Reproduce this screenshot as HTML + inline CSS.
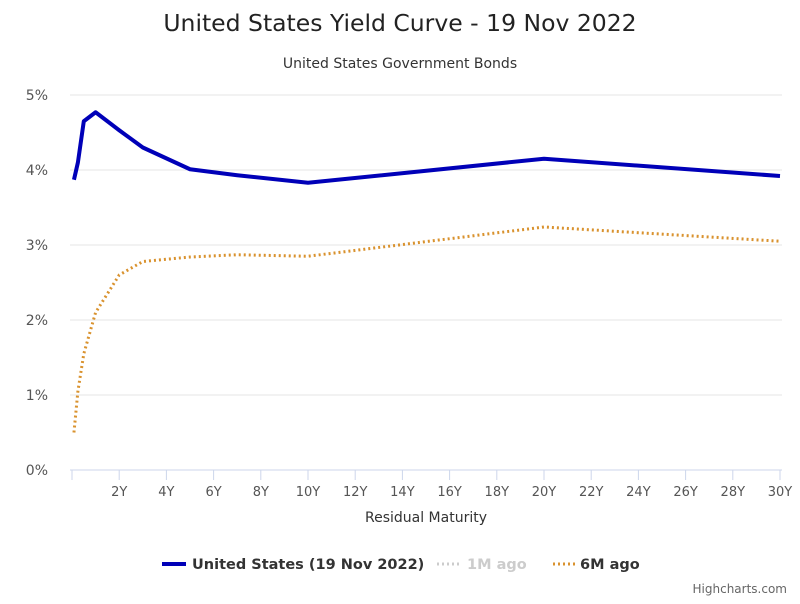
<!DOCTYPE html>
<html><head><meta charset="utf-8"><style>
body{margin:0;background:#fff;font-family:"DejaVu Sans",sans-serif}
svg text{font-family:"DejaVu Sans",sans-serif}
</style></head><body>
<svg width="800" height="600" xmlns="http://www.w3.org/2000/svg">
<text x="400" y="31" text-anchor="middle" font-size="23.5" fill="#222">United States Yield Curve - 19 Nov 2022</text>
<text x="400" y="68" text-anchor="middle" font-size="14" fill="#333">United States Government Bonds</text>
<g id="grid"></g><g id="xaxis"></g><g id="series"></g>
<text x="426" y="522" text-anchor="middle" font-size="14" fill="#333">Residual Maturity</text>
<g>
<g><line x1="162" y1="564" x2="186" y2="564" stroke="#0000b8" stroke-width="4"/><text x="192" y="569" font-size="14.5" font-weight="bold" fill="#333">United States (19 Nov 2022)</text></g>
<g><line x1="437" y1="564" x2="461" y2="564" stroke="#ccc" stroke-width="3" stroke-dasharray="2,3"/><text x="467" y="569" font-size="14.5" font-weight="bold" fill="#ccc">1M ago</text></g>
<g><line x1="553" y1="564" x2="577" y2="564" stroke="#d9922e" stroke-width="3" stroke-dasharray="2,3"/><text x="580" y="569" font-size="14.5" font-weight="bold" fill="#333">6M ago</text></g>
</g>
<text x="787" y="593" text-anchor="end" font-size="12" fill="#666">Highcharts.com</text>
</svg>
<script>
const maturities=[0.083,0.25,0.5,1,2,3,5,7,10,20,30];
const usNow=[3.87,4.1,4.65,4.77,4.53,4.3,4.01,3.93,3.83,4.15,3.92];
const ago6M=[0.5,1.05,1.55,2.1,2.6,2.78,2.84,2.87,2.85,3.24,3.05];
const yTicks=[0,1,2,3,4,5];
const xTicks=[2,4,6,8,10,12,14,16,18,20,22,24,26,28,30];
const NS="http://www.w3.org/2000/svg";
const X0=72,X1=780,Y0=470,Y1=95;
const xs=v=>X0+(X1-X0)*v/30, ys=v=>Y0-(Y0-Y1)*v/5;
function mk(t,a,p){const e=document.createElementNS(NS,t);for(const k in a)e.setAttribute(k,a[k]);p.appendChild(e);return e;}
const g=document.getElementById('grid'),xa=document.getElementById('xaxis'),s=document.getElementById('series');
yTicks.forEach(v=>{
 const l=mk('line',{x1:X0-2,x2:X1+2,y1:ys(v),y2:ys(v),stroke:'#e6e6e6'},g);
 
 
 const t=mk('text',{x:48,y:ys(v)+5,'text-anchor':'end','font-size':14,fill:'#555'},g);t.textContent=v+'%';
 
 
});
mk('line',{x1:X0-2,x2:X1+2,y1:Y0,y2:Y0,stroke:'#ccd6eb'},xa);
[0].concat(xTicks).forEach(v=>{mk('line',{x1:xs(v),x2:xs(v),y1:Y0,y2:Y0+10,stroke:'#ccd6eb'},xa);});
xTicks.forEach(v=>{
 const t=mk('text',{x:xs(v),y:496,'text-anchor':'middle','font-size':13,fill:'#555'},xa);t.textContent=v+'Y';
 
 
});
function path(d){return d.map((v,i)=>(i?'L':'M')+xs(maturities[i])+','+ys(v)).join(' ');}
const p6=mk('path',{d:path(ago6M),fill:'none',stroke:'#d9922e','stroke-width':3,'stroke-dasharray':'2,3'},s);


const pu=mk('path',{d:path(usNow),fill:'none',stroke:'#0000b8','stroke-width':4,'stroke-linejoin':'round'},s);


</script>
</body></html>
